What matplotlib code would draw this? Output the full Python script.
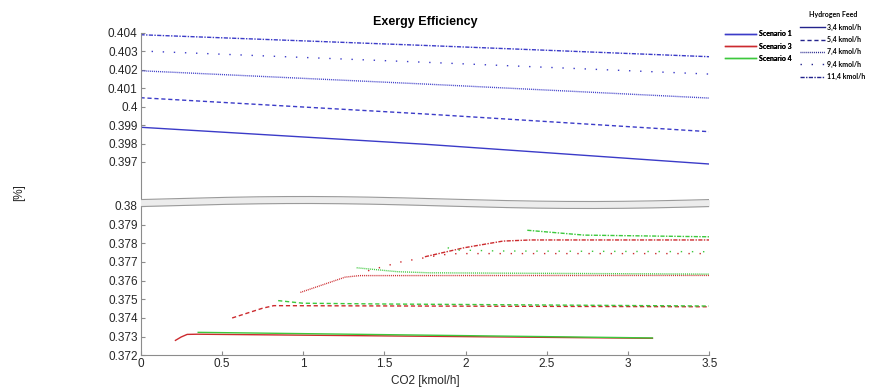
import numpy as np
import matplotlib
matplotlib.use("Agg")
import matplotlib.pyplot as plt
from matplotlib.lines import Line2D

plt.rcParams['font.family'] = ['Liberation Sans', 'DejaVu Sans']

# hydrogen feed cases and their line styles
feeds = ['3,4 kmol/h', '5,4 kmol/h', '7,4 kmol/h', '9,4 kmol/h', '11,4 kmol/h']
styles = ['-', (0, (3, 2)), (0, (0.7, 0.7)), (0, (1, 7)), (0, (3, 1, 1, 1))]

# Scenario 1 (upper range)
s1_x = [0, 1.75, 3.5]
s1_y = [
    [0.39888, 0.39796, 0.39689],
    [0.40048, 0.39960, 0.39864],
    [0.40194, 0.40122, 0.40046],
    [0.40301, 0.40240, 0.40176],
    [0.40389, 0.40331, 0.40270],
]

# Scenario 3 (lower range)
s3_x = [
    [0.215, 0.25, 0.287, 0.35, 3.15],
    [0.564, 0.75, 0.82, 3.5],
    [0.984, 1.26, 1.35, 3.5],
    [1.40, 1.61, 1.85, 1.95, 3.5],
    [1.75, 1.99, 2.23, 2.4, 3.5],
]
s3_y = [
    [0.37280, 0.37298, 0.37312, 0.37313, 0.37291],
    [0.37400, 0.37452, 0.37466, 0.37460],
    [0.37537, 0.37619, 0.37627, 0.37628],
    [0.37653, 0.37702, 0.37738, 0.37745, 0.37745],
    [0.37728, 0.37776, 0.37812, 0.37818, 0.37818],
]

# Scenario 4 (lower range)
s4_x = [
    [0.355, 3.15],
    [0.847, 1.0, 1.48, 3.5],
    [1.33, 1.58, 1.78, 3.5],
    [1.89, 1.96, 2.2, 3.5],
    [2.38, 2.73, 3.5],
]
s4_y = [
    [0.37323, 0.37293],
    [0.37493, 0.37479, 0.37475, 0.37464],
    [0.37669, 0.37648, 0.37642, 0.37635],
    [0.37776, 0.37764, 0.37759, 0.37755],
    [0.37870, 0.37844, 0.37835],
]

top_ticks = [0.397, 0.398, 0.399, 0.4, 0.401, 0.402, 0.403, 0.404]
bot_ticks = [0.372, 0.373, 0.374, 0.375, 0.376, 0.377, 0.378, 0.379, 0.38]
x_ticks = [0, 0.5, 1, 1.5, 2, 2.5, 3, 3.5]

c_blue = '#3b3bc8'
c_red = '#cc2a2e'
c_green = '#3cc83c'
c_axis = '#8c8c8c'
c_text = '#262626'

W, H = 869, 390
fig = plt.figure(figsize=(W / 100, H / 100), dpi=100)

x0, x1 = 140.5, 709.3
ax_top = fig.add_axes([x0 / W, 1 - 198 / H, (x1 - x0) / W, (198 - 32.7) / H])
ax_bot = fig.add_axes([x0 / W, 1 - 355.3 / H, (x1 - x0) / W, (355.3 - 206) / H])

for ys, ls in zip(s1_y, styles):
    ax_top.plot(s1_x, ys, color=c_blue, lw=1, linestyle=ls)

for xs, ys, ls in zip(s3_x, s3_y, styles):
    ax_bot.plot(xs, ys, color=c_red, lw=1, linestyle=ls)
for xs, ys, ls in zip(s4_x, s4_y, styles):
    ax_bot.plot(xs, ys, color=c_green, lw=1, linestyle=ls)

ax_top.set_xlim(0, 3.5)
ax_top.set_ylim(0.39505, 0.404)
ax_bot.set_xlim(0, 3.5)
ax_bot.set_ylim(0.372, 0.38)

for ax in (ax_top, ax_bot):
    for side in ('top', 'right'):
        ax.spines[side].set_visible(False)
    ax.spines['left'].set_color(c_axis)
    ax.spines['bottom'].set_color(c_axis)
    ax.tick_params(direction='in', length=3, color=c_axis, labelsize=8.5,
                   labelcolor=c_text, pad=2)

ax_top.spines['bottom'].set_visible(False)
ax_top.set_xticks([])
ax_top.set_yticks(top_ticks)
ax_top.set_yticklabels([f"{v:g}" for v in top_ticks])
ax_bot.set_yticks(bot_ticks)
ax_bot.set_yticklabels([f"{v:g}" for v in bot_ticks])
ax_bot.set_xticks(x_ticks)
ax_bot.set_xticklabels([f"{v:g}" for v in x_ticks])

# wavy break band between the two ranges
ax_brk = fig.add_axes([x0 / W, 1 - 212 / H, (x1 - x0) / W, 20 / H])
ax_brk.set_xlim(0, 3.5)
ax_brk.set_ylim(212, 192)
ax_brk.axis('off')
bx = np.linspace(0, 3.5, 200)
mid = 202.5 - 2.5 * np.sin(2 * np.pi * (bx - 0.125) / 3.5)
ax_brk.fill_between(bx, mid - 3.5, mid + 3.5, color='#ececec', lw=0)
ax_brk.plot(bx, mid - 3.5, color='#9a9a9a', lw=0.8)
ax_brk.plot(bx, mid + 3.5, color='#9a9a9a', lw=0.8)

fig.text(424.9 / W, 1 - 22 / H, 'Exergy Efficiency', ha='center', va='center',
         fontsize=9, fontweight='bold', color='black')
fig.text(424.9 / W, 1 - 381 / H, 'CO2 [kmol/h]', ha='center', va='center',
         fontsize=8.5, color=c_text)
fig.text(19 / W, 1 - 193 / H, '[%]', ha='center', va='center', rotation=90,
         fontsize=8.5, color=c_text)

leg_font = {'family': 'Lato', 'weight': 'bold', 'size': 5}

sc_handles = [Line2D([], [], color=c, lw=1) for c in (c_blue, c_red, c_green)]
leg1 = fig.legend(sc_handles, ['Scenario 1', 'Scenario 3', 'Scenario 4'],
                  loc='upper left', bbox_to_anchor=(722 / W, 1 - 27 / H),
                  frameon=False, prop=leg_font, handlelength=4.4,
                  handletextpad=0.4, labelspacing=0.75, borderpad=0)

feed_handles = [Line2D([], [], color='#23238c', lw=1, linestyle=ls) for ls in styles]
leg2 = fig.legend(feed_handles, feeds, loc='upper right',
                  bbox_to_anchor=(1.0, 1 - 8 / H), frameon=False, prop=leg_font,
                  title='Hydrogen Feed', title_fontproperties=leg_font,
                  handlelength=3.6, handletextpad=0.3, labelspacing=0.75,
                  borderpad=0)
fig.add_artist(leg1)

fig.savefig('out.png', dpi=100)
